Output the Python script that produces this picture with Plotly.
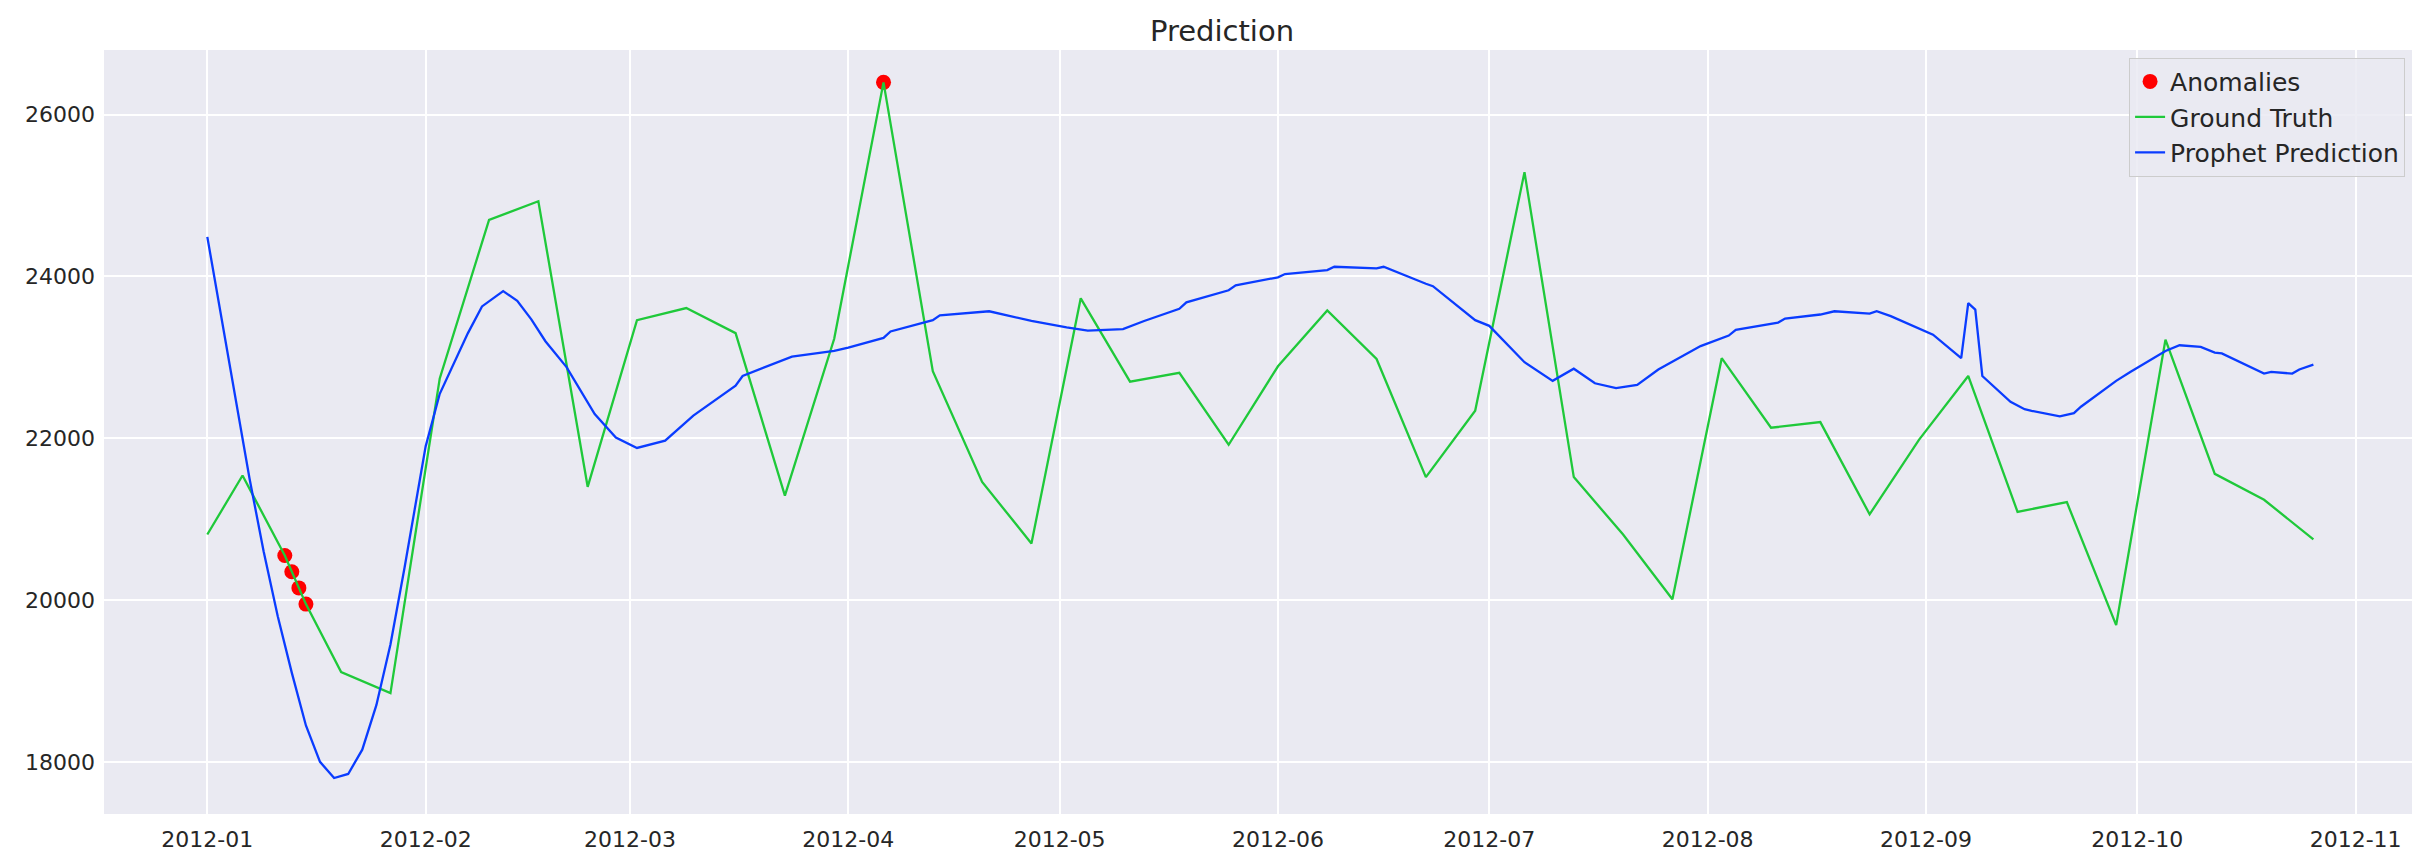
import plotly.graph_objects as go

gt_dates = ["2012-01-01","2012-01-06","2012-01-12","2012-01-13","2012-01-14","2012-01-15","2012-01-20","2012-01-27",
            "2012-02-03","2012-02-10","2012-02-17","2012-02-24","2012-03-02","2012-03-09","2012-03-16","2012-03-23",
            "2012-03-30","2012-04-06","2012-04-13","2012-04-20","2012-04-27","2012-05-04","2012-05-11","2012-05-18",
            "2012-05-25","2012-06-01","2012-06-08","2012-06-15","2012-06-22","2012-06-29","2012-07-06","2012-07-13",
            "2012-07-20","2012-07-27","2012-08-03","2012-08-10","2012-08-17","2012-08-24","2012-08-31","2012-09-07",
            "2012-09-14","2012-09-21","2012-09-28","2012-10-05","2012-10-12","2012-10-19","2012-10-26"]
gt_values = [20810,21540,20550,20350,20150,19950,19110,18850,
             22740,24700,24930,21400,23460,23610,23300,21290,
             23230,26400,22830,21460,20700,23730,22700,22810,
             21920,22890,23580,22980,21520,22340,25290,21520,
             20810,20010,22990,22130,22200,21060,21980,22770,
             21090,21210,19690,23220,21560,21240,20750]

anom_dates = ["2012-01-12","2012-01-13","2012-01-14","2012-01-15","2012-04-06"]
anom_values = [20550,20350,20150,19950,26400]

pred_dates = ["2012-01-01","2012-01-03","2012-01-05","2012-01-07","2012-01-09","2012-01-11","2012-01-13","2012-01-15",
              "2012-01-17","2012-01-19","2012-01-21","2012-01-23","2012-01-25","2012-01-27","2012-01-29","2012-02-01",
              "2012-02-03","2012-02-05","2012-02-07","2012-02-09","2012-02-12","2012-02-14","2012-02-16","2012-02-18",
              "2012-02-21","2012-02-25","2012-02-28","2012-03-02","2012-03-06","2012-03-10","2012-03-16","2012-03-17",
              "2012-03-24","2012-03-30","2012-04-01","2012-04-06","2012-04-07","2012-04-13","2012-04-14","2012-04-21",
              "2012-04-27","2012-05-02","2012-05-05","2012-05-10","2012-05-13","2012-05-18","2012-05-19","2012-05-25",
              "2012-05-26","2012-06-01","2012-06-02","2012-06-08","2012-06-09","2012-06-15","2012-06-16","2012-06-22",
              "2012-06-23","2012-06-29","2012-07-01","2012-07-06","2012-07-10","2012-07-13","2012-07-16","2012-07-19",
              "2012-07-22","2012-07-25","2012-07-28","2012-07-31","2012-08-04","2012-08-05","2012-08-11","2012-08-12",
              "2012-08-17","2012-08-19","2012-08-24","2012-08-25","2012-08-27","2012-09-01","2012-09-02","2012-09-06",
              "2012-09-07","2012-09-08","2012-09-09","2012-09-13","2012-09-15","2012-09-16","2012-09-20","2012-09-22",
              "2012-09-23","2012-09-28","2012-09-30","2012-10-05","2012-10-07","2012-10-10","2012-10-12","2012-10-13",
              "2012-10-17","2012-10-19","2012-10-20","2012-10-23","2012-10-24","2012-10-26"]
pred_values = [24490,23500,22500,21500,20600,19800,19100,18450,
               18000,17800,17850,18150,18700,19450,20400,21900,
               22550,22930,23300,23630,23820,23700,23470,23200,
               22880,22300,22010,21880,21970,22280,22650,22770,
               23010,23080,23120,23240,23320,23460,23520,23570,
               23450,23370,23330,23350,23450,23600,23680,23830,
               23890,23990,24030,24080,24120,24100,24120,23910,
               23880,23460,23390,22940,22710,22860,22680,22620,
               22660,22850,23000,23140,23270,23340,23430,23480,
               23530,23570,23540,23570,23510,23310,23280,22990,
               23670,23590,22770,22450,22360,22340,22270,22310,
               22390,22710,22820,23080,23150,23130,23060,23050,
               22890,22800,22820,22800,22850,22910]

fig = go.Figure()
fig.add_trace(go.Scatter(x=anom_dates, y=anom_values, mode="markers", name="Anomalies",
                         marker=dict(color="red", size=15)))
fig.add_trace(go.Scatter(x=gt_dates, y=gt_values, mode="lines", name="Ground Truth",
                         line=dict(color="#1fc93a", width=2.3)))
fig.add_trace(go.Scatter(x=pred_dates, y=pred_values, mode="lines", name="Prophet Prediction",
                         line=dict(color="#0a3cff", width=2.3)))

fig.update_layout(
    width=2428, height=856,
    margin=dict(l=96, r=24, t=42, b=48),
    paper_bgcolor="white", plot_bgcolor="#EAEAF2",
    font=dict(family="DejaVu Sans", size=22, color="#262626"),
    title=dict(text="Prediction", x=0.5, xanchor="center", y=0.985, yanchor="top",
               font=dict(size=29, color="#262626")),
    showlegend=True,
    legend=dict(x=0.997, y=0.99, xanchor="right", yanchor="top",
                bgcolor="rgba(234,234,242,0.85)", bordercolor="#cccccc", borderwidth=1,
                font=dict(size=25)),
)
fig.update_xaxes(range=["2011-12-17 08:00", "2012-11-09"], dtick="M1", tickformat="%Y-%m",
                 tick0="2012-01-01", gridcolor="white", gridwidth=1.5, showline=False, zeroline=False,
                 ticks="", ticklabelstandoff=10)
fig.update_yaxes(range=[17355, 26800], dtick=2000, tickformat="d", gridcolor="white", gridwidth=1.5,
                 zeroline=False, ticks="", ticklabelstandoff=8)

fig.write_html("out.html")
